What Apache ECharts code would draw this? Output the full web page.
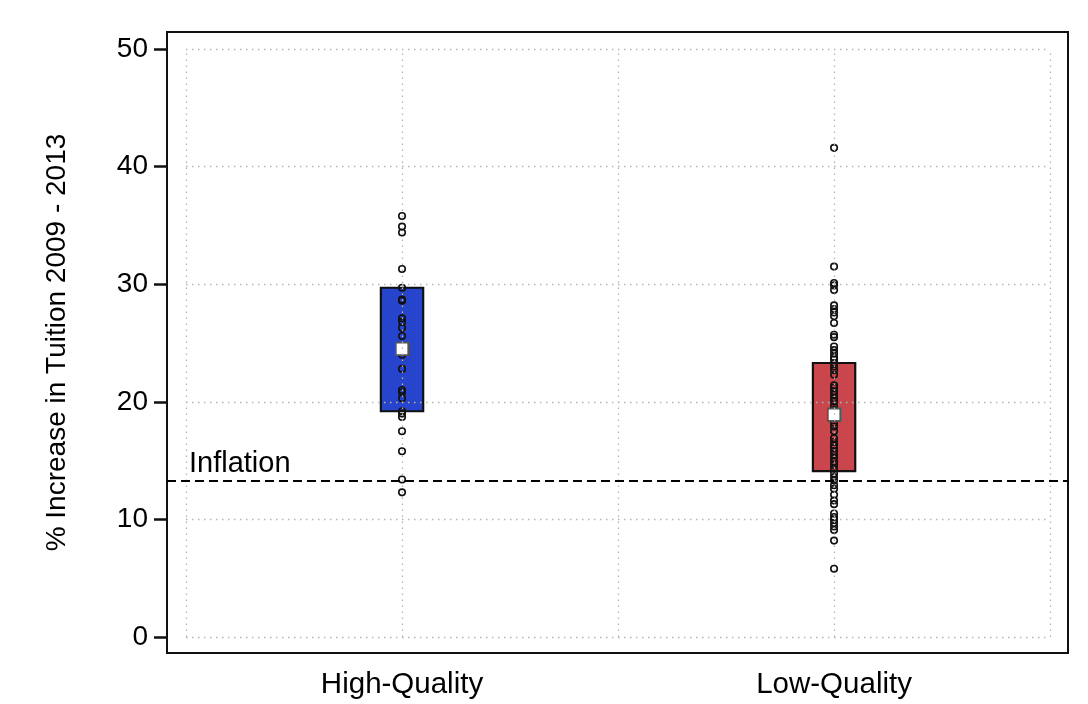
<!DOCTYPE html>
<html>
<head>
<meta charset="utf-8">
<title>Tuition increase by quality</title>
<script src="https://cdn.jsdelivr.net/npm/echarts@6/dist/echarts.min.js"></script>
<style>
  html, body { margin: 0; padding: 0; background: #ffffff; }
  #chart { width: 1088px; height: 704px; }
</style>
</head>
<body>
<div id="chart"></div>
<script>
// categories and where they sit on the x scale
const categories = ['High-Quality', 'Low-Quality'];
const categoryPos = [1, 3];
const xGrid = [0, 1, 2, 3, 4];
const yTicks = [0, 10, 20, 30, 40, 50];

// interquartile boxes [low, high] and means
const highBox = [19.2, 29.7];
const lowBox = [14.1, 23.3];
const means = [24.5, 18.9];
const inflation = 13.3;

// individual schools
const highValues = [35.8, 34.9, 34.4, 31.3, 29.7, 28.7, 28.6, 27.1, 26.8, 26.3, 25.6, 24.5,
  24.0, 22.8, 21.0, 20.8, 20.3, 19.2, 19.0, 18.7, 17.5, 15.8, 13.4, 12.3];
const lowValues = [41.6, 31.5, 30.1, 29.9, 29.5, 28.2, 27.9, 27.6, 27.3, 26.7, 25.7, 25.5,
  24.7, 24.4, 24.1, 23.8, 23.6, 23.3, 23.0, 22.7, 22.3, 21.4, 21.2, 20.9, 20.6, 20.3,
  20.0, 19.6, 19.3, 18.8, 18.2, 17.9, 17.5, 16.9, 16.6, 16.3, 16.1, 15.8, 15.5, 15.2,
  14.9, 14.6, 14.3, 13.9, 13.6, 13.3, 12.9, 12.6, 12.1, 11.6, 11.3, 10.5, 10.2, 10.0,
  9.7, 9.4, 9.1, 8.2, 5.8];

const boxColors = ['#2744cc', '#c9464c'];
const BOX_HALF = 0.098;
const FONT = '"Liberation Sans", Arial, Helvetica, sans-serif';

const chart = echarts.init(document.getElementById('chart'));

// dotted grid inside the 0..4 / 0..50 box
const gridLines = [];
yTicks.forEach(y => gridLines.push([{ coord: [xGrid[0], y] }, { coord: [xGrid[xGrid.length - 1], y] }]));
xGrid.forEach(x => gridLines.push([{ coord: [x, yTicks[0]] }, { coord: [x, yTicks[yTicks.length - 1]] }]));

const boxData = [
  [categoryPos[0], highBox[0], highBox[1]],
  [categoryPos[1], lowBox[0], lowBox[1]],
];

const pointData = highValues.map(v => [categoryPos[0], v])
  .concat(lowValues.map(v => [categoryPos[1], v]));

chart.setOption({
  animation: false,
  textStyle: { fontFamily: FONT },
  grid: {
    left: 167,
    right: 20,
    top: 32,
    bottom: 51,
    show: true,
    borderColor: '#111',
    borderWidth: 2,
    backgroundColor: '#fff',
  },
  xAxis: {
    type: 'value',
    min: -0.088,
    max: 4.083,
    axisLine: { show: false, onZero: false },
    axisTick: { show: false },
    splitLine: { show: false },
    axisLabel: {
      customValues: categoryPos,
      formatter: v => categories[categoryPos.indexOf(v)] || '',
      color: '#000',
      fontSize: 29.5,
      margin: 17,
      fontFamily: FONT,
    },
  },
  yAxis: {
    type: 'value',
    min: -1.36,
    max: 51.45,
    name: '% Increase in Tuition 2009 - 2013',
    nameLocation: 'middle',
    nameGap: 96,
    nameTextStyle: { color: '#000', fontSize: 28, fontFamily: FONT },
    axisLine: { show: false, onZero: false },
    axisTick: {
      show: true,
      inside: false,
      customValues: yTicks,
      length: 13,
      lineStyle: { color: '#111', width: 2.5 },
    },
    splitLine: { show: false },
    axisLabel: {
      customValues: yTicks,
      color: '#000',
      fontSize: 28,
      margin: 19,
      fontFamily: FONT,
    },
  },
  series: [
    {
      // gridlines
      type: 'line',
      data: [],
      silent: true,
      z: 1,
      markLine: {
        silent: true,
        symbol: 'none',
        label: { show: false },
        lineStyle: { color: '#b4b4b4', width: 1.3, type: [1.5, 4.5] },
        data: gridLines,
      },
    },
    {
      type: 'custom',
      z: 2,
      data: boxData,
      renderItem: (params, api) => {
        const x = api.value(0);
        const p1 = api.coord([x - BOX_HALF, api.value(2)]);
        const p2 = api.coord([x + BOX_HALF, api.value(1)]);
        return {
          type: 'rect',
          shape: { x: p1[0], y: p1[1], width: p2[0] - p1[0], height: p2[1] - p1[1] },
          style: { fill: boxColors[params.dataIndex], stroke: '#111', lineWidth: 2.2 },
        };
      },
    },
    {
      type: 'scatter',
      z: 3,
      data: pointData,
      symbol: 'circle',
      symbolSize: 6.5,
      itemStyle: { color: 'rgba(0,0,0,0)', borderColor: '#111', borderWidth: 1.6, opacity: 1 },
    },
    {
      type: 'scatter',
      z: 4,
      data: categoryPos.map((x, i) => [x, means[i]]),
      symbol: 'rect',
      symbolSize: 12.5,
      itemStyle: { color: '#fff', borderColor: '#555', borderWidth: 1.8, opacity: 1 },
    },
    {
      // inflation reference line
      type: 'line',
      data: [],
      z: 5,
      markLine: {
        silent: true,
        symbol: 'none',
        lineStyle: { color: '#000', width: 2, type: [9, 5] },
        label: {
          show: true,
          position: 'insideStartTop',
          formatter: 'Inflation',
          color: '#000',
          fontSize: 29,
          fontFamily: FONT,
          distance: [22, 2],
        },
        data: [{ yAxis: inflation }],
      },
    },
  ],
});

window.addEventListener('resize', () => {
  chart.resize();
});
</script>
</body>
</html>
